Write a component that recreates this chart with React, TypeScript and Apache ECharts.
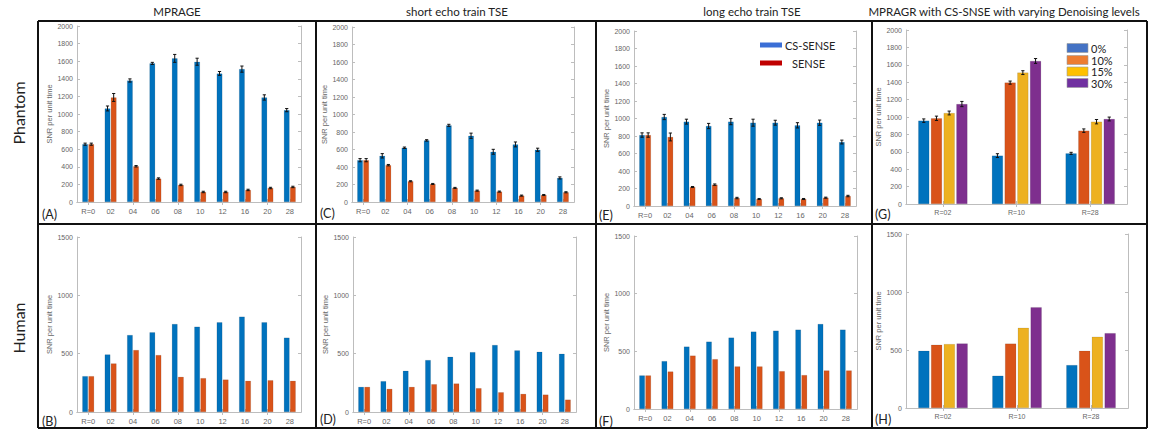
import React, { useEffect, useRef } from "react";
import * as echarts from "echarts";

const CATS = ["R=0", "02", "04", "06", "08", "10", "12", "16", "20", "28"];
const G_CATS = ["R=02", "R=10", "R=28"];

const A_CS = [657, 1063, 1381, 1575, 1632, 1594, 1461, 1510, 1188, 1044];
const A_CS_ERR = [12, 28, 18, 12, 45, 40, 22, 35, 30, 18];
const A_SENSE = [657, 1188, 406, 266, 194, 114, 114, 137, 159, 171];
const A_SENSE_ERR = [12, 45, 8, 8, 8, 8, 8, 8, 8, 8];

const C_CS = [478, 528, 620, 704, 876, 757, 574, 658, 597, 275];
const C_CS_ERR = [18, 25, 8, 8, 12, 30, 28, 28, 18, 12];
const C_SENSE = [478, 421, 237, 206, 161, 130, 119, 73, 80, 111];
const C_SENSE_ERR = [18, 8, 6, 6, 6, 6, 6, 6, 6, 6];

const E_CS = [811, 1017, 964, 914, 964, 952, 952, 922, 952, 731];
const E_CS_ERR = [25, 30, 28, 30, 35, 40, 28, 30, 30, 22];
const E_SENSE = [811, 789, 217, 244, 91, 80, 88, 80, 95, 114];
const E_SENSE_ERR = [25, 45, 6, 8, 8, 6, 6, 6, 6, 8];

const G_0 = [958, 556, 582];
const G_0_ERR = [20, 22, 12];
const G_10 = [985, 1395, 843];
const G_10_ERR = [25, 18, 20];
const G_15 = [1046, 1510, 946];
const G_15_ERR = [22, 22, 25];
const G_30 = [1149, 1644, 977];
const G_30_ERR = [30, 28, 22];

const B_CS = [307, 493, 660, 683, 754, 731, 769, 817, 769, 637];
const B_SENSE = [307, 416, 531, 488, 301, 290, 278, 267, 272, 267];
const D_CS = [215, 264, 353, 445, 473, 513, 574, 528, 516, 499];
const D_SENSE = [215, 198, 215, 238, 244, 204, 169, 155, 149, 106];
const F_CS = [291, 415, 541, 584, 619, 671, 679, 688, 737, 688];
const F_SENSE = [291, 325, 463, 432, 369, 369, 328, 294, 334, 334];
const H_0 = [493, 278, 370];
const H_10 = [545, 555, 493];
const H_15 = [551, 691, 614];
const H_30 = [556, 869, 645];

const TITLES = [
  "MPRAGE",
  "short echo train TSE",
  "long echo train TSE",
  "MPRAGR with CS-SNSE with varying Denoising levels",
];
const ROW_LABELS = ["Phantom", "Human"];
const LETTERS = ["(A)", "(B)", "(C)", "(D)", "(E)", "(F)", "(G)", "(H)"];
const LEGEND_E = ["CS-SENSE", "SENSE"];
const LEGEND_G = ["0%", "10%", "15%", "30%"];
const Y_NAME = "SNR per unit time";

const BLUE = "#0072BD";
const ORANGE = "#D95319";
const YELLOW = "#EDB120";
const PURPLE = "#7E2F8E";

type Panel = {
  grid: { left: number; top: number; width: number; height: number };
  cats: string[];
  series: number[][];
  errors?: number[][];
  colors: string[];
  max: number;
  interval: number;
  barRatio: number;
  gapRatio: number;
  xFont: number;
};

const PANELS: Panel[] = [
  { grid: { left: 77, top: 26, width: 224, height: 176 }, cats: CATS, series: [A_CS, A_SENSE], errors: [A_CS_ERR, A_SENSE_ERR], colors: [BLUE, ORANGE], max: 2000, interval: 200, barRatio: 0.25, gapRatio: 0.1, xFont: 7.5 },
  { grid: { left: 352, top: 27, width: 222, height: 175 }, cats: CATS, series: [C_CS, C_SENSE], errors: [C_CS_ERR, C_SENSE_ERR], colors: [BLUE, ORANGE], max: 2000, interval: 200, barRatio: 0.25, gapRatio: 0.1, xFont: 7.5 },
  { grid: { left: 634, top: 31, width: 222, height: 175 }, cats: CATS, series: [E_CS, E_SENSE], errors: [E_CS_ERR, E_SENSE_ERR], colors: [BLUE, ORANGE], max: 2000, interval: 200, barRatio: 0.25, gapRatio: 0.1, xFont: 7.5 },
  { grid: { left: 906, top: 30, width: 221, height: 174 }, cats: G_CATS, series: [G_0, G_10, G_15, G_30], errors: [G_0_ERR, G_10_ERR, G_15_ERR, G_30_ERR], colors: [BLUE, ORANGE, YELLOW, PURPLE], max: 2000, interval: 200, barRatio: 0.15, gapRatio: 0.15, xFont: 7 },
  { grid: { left: 77, top: 237, width: 224, height: 175 }, cats: CATS, series: [B_CS, B_SENSE], colors: [BLUE, ORANGE], max: 1500, interval: 500, barRatio: 0.25, gapRatio: 0.1, xFont: 7.5 },
  { grid: { left: 353, top: 237, width: 223, height: 175 }, cats: CATS, series: [D_CS, D_SENSE], colors: [BLUE, ORANGE], max: 1500, interval: 500, barRatio: 0.25, gapRatio: 0.1, xFont: 7.5 },
  { grid: { left: 634, top: 236, width: 223, height: 173 }, cats: CATS, series: [F_CS, F_SENSE], colors: [BLUE, ORANGE], max: 1500, interval: 500, barRatio: 0.25, gapRatio: 0.1, xFont: 7.5 },
  { grid: { left: 906, top: 234, width: 222, height: 174 }, cats: G_CATS, series: [H_0, H_10, H_15, H_30], colors: [BLUE, ORANGE, YELLOW, PURPLE], max: 1500, interval: 500, barRatio: 0.15, gapRatio: 0.15, xFont: 7 },
];

const AXIS_COLOR = "#bdbdbd";
const TEXT_COLOR = "#666";
const AXIS_FONT = "Liberation Sans";
const LABEL_FONT = "Lato";

function buildOption() {
  const grid: any[] = [];
  const xAxis: any[] = [];
  const yAxis: any[] = [];
  const series: any[] = [];

  PANELS.forEach((p, i) => {
    grid.push({ ...p.grid, show: false, containLabel: false });
    const xBase = {
      type: "category",
      data: p.cats,
      gridIndex: i,
      axisLine: { show: true, lineStyle: { color: AXIS_COLOR, width: 1 } },
      axisTick: { show: true, inside: true, alignWithLabel: true, length: 3, lineStyle: { color: AXIS_COLOR } },
      splitLine: { show: false },
    };
    xAxis.push({
      ...xBase,
      position: "bottom",
      axisLabel: { show: true, fontSize: p.xFont, color: TEXT_COLOR, fontFamily: AXIS_FONT, margin: 5 },
    });
    xAxis.push({ ...xBase, position: "top", axisLabel: { show: false } });
    const yBase = {
      type: "value",
      min: 0,
      max: p.max,
      interval: p.interval,
      gridIndex: i,
      axisLine: { show: true, lineStyle: { color: AXIS_COLOR, width: 1 } },
      axisTick: { show: true, inside: true, length: 3, lineStyle: { color: AXIS_COLOR } },
      splitLine: { show: false },
    };
    yAxis.push({
      ...yBase,
      position: "left",
      name: Y_NAME,
      nameLocation: "middle",
      nameRotate: 90,
      nameGap: 17,
      nameTextStyle: { fontSize: 7.5, color: TEXT_COLOR, fontFamily: AXIS_FONT },
      axisLabel: {
        show: true,
        fontSize: 7,
        color: TEXT_COLOR,
        fontFamily: AXIS_FONT,
        margin: 4,
        formatter: (v: number) => String(v),
      },
    });
    yAxis.push({ ...yBase, position: "right", axisLabel: { show: false } });

    const n = p.series.length;
    p.series.forEach((vals, k) => {
      series.push({
        type: "bar",
        xAxisIndex: 2 * i,
        yAxisIndex: 2 * i,
        data: vals,
        barWidth: `${p.barRatio * 100}%`,
        barGap: `${p.gapRatio * 100}%`,
        itemStyle: { color: p.colors[k], borderColor: "rgba(0,0,0,0.25)", borderWidth: 0.4 },
        silent: true,
      });
    });
    if (p.errors) {
      p.errors.forEach((errs, k) => {
        const vals = p.series[k];
        series.push({
          type: "custom",
          xAxisIndex: 2 * i,
          yAxisIndex: 2 * i,
          z: 10,
          silent: true,
          data: vals.map((v, j) => [j, v, errs[j]]),
          encode: { x: 0, y: 1 },
          renderItem: (params: any, api: any) => {
            const cat = api.value(0);
            const val = api.value(1);
            const err = api.value(2);
            const c = api.coord([cat, val]);
            const band = api.size([1, 0])[0];
            const w = band * p.barRatio;
            const gap = w * p.gapRatio;
            const total = n * w + (n - 1) * gap;
            const x = c[0] - total / 2 + w / 2 + k * (w + gap);
            const yTop = api.coord([cat, val + err])[1];
            const yBot = api.coord([cat, val - err])[1];
            const cap = 1.6;
            const st = { stroke: "#111", lineWidth: 1 };
            return {
              type: "group",
              children: [
                { type: "line", shape: { x1: x, y1: yTop, x2: x, y2: yBot }, style: st },
                { type: "line", shape: { x1: x - cap, y1: yTop, x2: x + cap, y2: yTop }, style: st },
                { type: "line", shape: { x1: x - cap, y1: yBot, x2: x + cap, y2: yBot }, style: st },
              ],
            };
          },
        });
      });
    }
  });

  const graphic: any[] = [];
  const frameStyle = { stroke: "#111", lineWidth: 2 };
  const L = 38, R = 1147, T = 21, M = 224, B = 428;
  [L, 316, 596, 872, R].forEach((x) =>
    graphic.push({ type: "line", shape: { x1: x, y1: T, x2: x, y2: B }, style: frameStyle, z: 100 })
  );
  [T, M, B].forEach((y) =>
    graphic.push({ type: "line", shape: { x1: L, y1: y, x2: R, y2: y }, style: frameStyle, z: 100 })
  );
  const titleX = [177, 457, 752, 1004];
  TITLES.forEach((t, i) =>
    graphic.push({
      type: "text",
      x: titleX[i],
      y: 11,
      style: { text: t, fill: "#222", fontSize: 11.5, fontFamily: LABEL_FONT, align: "center", verticalAlign: "middle" },
    })
  );
  const rowY = [113, 328];
  ROW_LABELS.forEach((t, i) =>
    graphic.push({
      type: "text",
      x: 18,
      y: rowY[i],
      rotation: Math.PI / 2,
      style: { text: t, fill: "#222", fontSize: 16, fontFamily: LABEL_FONT, align: "center", verticalAlign: "middle" },
    })
  );
  const letterPos = [
    [42, 214], [42, 421], [320, 213], [320, 419], [599, 215], [599, 421], [875, 214], [875, 419],
  ];
  LETTERS.forEach((t, i) =>
    graphic.push({
      type: "text",
      x: letterPos[i][0],
      y: letterPos[i][1],
      style: { text: t, fill: "#222", fontSize: 12.5, fontFamily: LABEL_FONT, align: "left", verticalAlign: "middle" },
    })
  );
  const legEColors = ["#3b6fd6", "#c00000"];
  const legEY = [45, 63];
  const legETextX = [785, 792];
  LEGEND_E.forEach((t, i) => {
    graphic.push({ type: "rect", shape: { x: 760, y: legEY[i] - 2.5, width: 22, height: 5 }, style: { fill: legEColors[i] } });
    graphic.push({
      type: "text",
      x: legETextX[i],
      y: legEY[i],
      style: { text: t, fill: "#222", fontSize: 11, fontFamily: LABEL_FONT, align: "left", verticalAlign: "middle" },
    });
  });
  const legGColors = ["#4472C4", "#ED7D31", "#FFC000", "#7030A0"];
  const legGY = [48, 60, 71.5, 83];
  LEGEND_G.forEach((t, i) => {
    graphic.push({
      type: "rect",
      shape: { x: 1067, y: legGY[i] - 4.5, width: 21, height: 9 },
      style: { fill: legGColors[i], stroke: "#9a9a9a", lineWidth: 0.6 },
    });
    graphic.push({
      type: "text",
      x: 1091,
      y: legGY[i],
      style: { text: t, fill: "#222", fontSize: 11, fontFamily: LABEL_FONT, align: "left", verticalAlign: "middle" },
    });
  });

  return {
    animation: false,
    backgroundColor: "#ffffff",
    grid,
    xAxis,
    yAxis,
    series,
    graphic,
  };
}

export default function App() {
  const ref = useRef<HTMLDivElement>(null);
  useEffect(() => {
    if (!ref.current) return;
    const chart = echarts.init(ref.current, undefined, { renderer: "svg" });
    chart.setOption(buildOption());
    return () => chart.dispose();
  }, []);
  return <div ref={ref} style={{ width: 1151, height: 431, position: "absolute", left: 0, top: 0 }} />;
}
